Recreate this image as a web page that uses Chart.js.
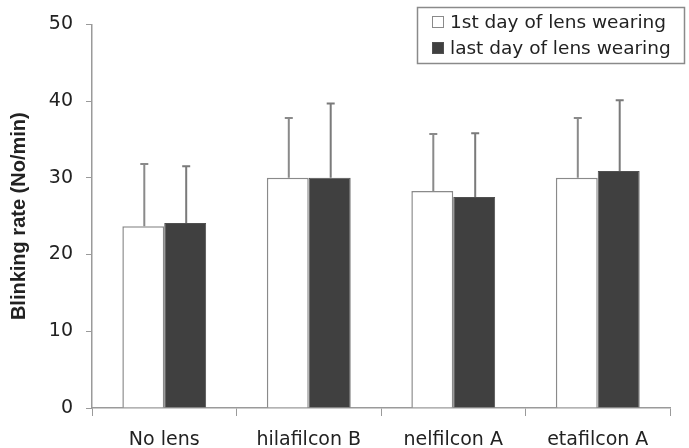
<!DOCTYPE html>
<html><head><meta charset="utf-8">
<script src="https://cdn.jsdelivr.net/npm/chart.js@4.4.1/dist/chart.umd.min.js"></script>
<style>html,body{margin:0;padding:0;background:#fff}#wrap{width:689px;height:448px}</style>
</head><body><div id="wrap"><canvas id="c" width="689" height="448"></canvas></div>
<script>
const categories = ["No lens", "hilafilcon B", "nelfilcon A", "etafilcon A"];
const firstDay = [23.7, 30.0, 28.3, 30.0];
const lastDay = [24.1, 30.0, 27.5, 30.9];
const firstDayUpper = [31.8, 37.8, 35.7, 37.8];
const lastDayUpper = [31.5, 39.7, 35.8, 40.1];
const seriesNames = ["1st day of lens wearing", "last day of lens wearing"];
const yTicks = [0, 10, 20, 30, 40, 50];

const FONT = "'DejaVu Sans', sans-serif";
const TFONT = "'Liberation Sans', Arial, sans-serif";

const errorBars = {
  id: 'errorBars',
  afterDatasetsDraw(chart) {
    const ctx = chart.ctx, y = chart.scales.y;
    const uppers = [firstDayUpper, lastDayUpper];
    const cols = ['#8a8a8a', '#7a7a7a'];
    chart.data.datasets.forEach((ds, di) => {
      const meta = chart.getDatasetMeta(di);
      meta.data.forEach((bar, i) => {
        const x = bar.x + 1, yTop = y.getPixelForValue(uppers[di][i]), yBar = bar.y;
        ctx.save();
        ctx.strokeStyle = cols[di];
        ctx.lineWidth = 2;
        ctx.beginPath();
        ctx.moveTo(x, yBar); ctx.lineTo(x, yTop);
        ctx.moveTo(x - 4, yTop); ctx.lineTo(x + 4, yTop);
        ctx.stroke();
        ctx.restore();
      });
    });
  }
};

const boxLegend = {
  id: 'boxLegend',
  afterDraw(chart) {
    const ctx = chart.ctx;
    ctx.save();
    ctx.strokeStyle = '#8a8a8a';
    ctx.lineWidth = 1.5;
    ctx.strokeRect(417.5, 7.5, 267, 56);
    ctx.font = '18.5px ' + FONT;
    ctx.textBaseline = 'middle';
    const rows = [22, 48];
    chart.data.datasets.forEach((ds, i) => {
      const yy = rows[i];
      ctx.fillStyle = ds.backgroundColor;
      ctx.fillRect(432, yy - 6, 12, 12);
      ctx.strokeStyle = ds.borderColor;
      ctx.lineWidth = 1;
      ctx.strokeRect(432.5, yy - 5.5, 11, 11);
      ctx.fillStyle = '#222';
      ctx.fillText(ds.label, 450, yy + 1);
    });
    ctx.restore();
  }
};

new Chart(document.getElementById('c'), {
  type: 'bar',
  data: {
    labels: categories,
    datasets: [
      { label: seriesNames[0], data: firstDay, backgroundColor: '#ffffff', borderColor: '#8a8a8a', borderWidth: 1.5,
        categoryPercentage: 0.58, barPercentage: 1.0 },
      { label: seriesNames[1], data: lastDay, backgroundColor: '#404040', borderColor: '#505050', borderWidth: 1,
        categoryPercentage: 0.58, barPercentage: 1.0 }
    ]
  },
  options: {
    responsive: false,
    animation: false,
    devicePixelRatio: 1,
    layout: { padding: { left: 0, right: 19, top: 24, bottom: 0 } },
    plugins: { legend: { display: false }, tooltip: { enabled: false } },
    scales: {
      x: {
        grid: { drawOnChartArea: false, drawTicks: true, tickLength: 8, color: '#9a9a9a', offset: true },
        border: { color: '#9a9a9a', width: 1.5 },
        ticks: { color: '#222', font: { family: FONT, size: 19 }, padding: 13 },
        afterFit(s) { s.height = 40; }
      },
      y: {
        min: 0, max: 50,
        afterBuildTicks(s) { s.ticks = yTicks.map(v => ({ value: v })); },
        grid: { drawOnChartArea: false, drawTicks: true, tickLength: 6, color: '#9a9a9a' },
        border: { color: '#9a9a9a', width: 1.5 },
        ticks: { color: '#222', font: { family: FONT, size: 19 }, padding: 13 },
        title: { display: true, text: 'Blinking rate (No/min)', color: '#222',
          font: { family: TFONT, size: 20, weight: 'bold' }, padding: { top: 7, bottom: 0 } },
        afterFit(s) { s.width = 92; }
      }
    }
  },
  plugins: [errorBars, boxLegend]
});
</script></body></html>
